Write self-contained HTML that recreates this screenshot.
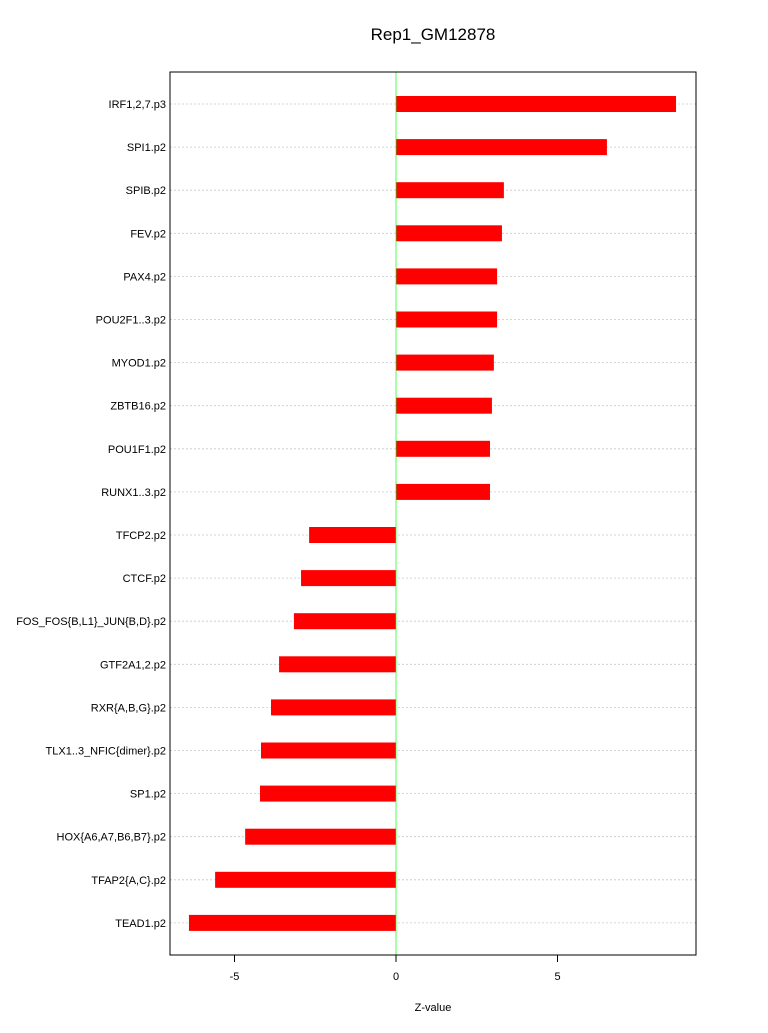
<!DOCTYPE html>
<html><head><meta charset="utf-8"><style>
body{margin:0;background:#fff}
svg text{font-family:"Liberation Sans",sans-serif}
</style></head><body>
<svg id="chart" width="768" height="1028" xmlns="http://www.w3.org/2000/svg">
<text x="433" y="40" text-anchor="middle" font-size="17">Rep1_GM12878</text>
<text x="433" y="1011" text-anchor="middle" font-size="11">Z-value</text>
<g id="grid"></g><g id="bars"></g><g id="labels"></g><g id="xaxis"></g>
<line x1="396" y1="72" x2="396" y2="955" stroke="#00ff00" stroke-width="0.7"/>
<rect x="170" y="72" width="526" height="883" fill="none" stroke="#000" stroke-width="1"/>
</svg>
<script>
const categories=["IRF1,2,7.p3","SPI1.p2","SPIB.p2","FEV.p2","PAX4.p2","POU2F1..3.p2","MYOD1.p2","ZBTB16.p2","POU1F1.p2","RUNX1..3.p2","TFCP2.p2","CTCF.p2","FOS_FOS{B,L1}_JUN{B,D}.p2","GTF2A1,2.p2","RXR{A,B,G}.p2","TLX1..3_NFIC{dimer}.p2","SP1.p2","HOX{A6,A7,B6,B7}.p2","TFAP2{A,C}.p2","TEAD1.p2"];
const values=[8.67,6.53,3.34,3.28,3.13,3.13,3.03,2.97,2.91,2.91,-2.69,-2.94,-3.16,-3.62,-3.87,-4.18,-4.21,-4.67,-5.6,-6.41];
const xTicks=[-5,0,5];
const NS="http://www.w3.org/2000/svg";
const x=v=>396+v*32.3;
const y=i=>104+i*43.1;
function mk(t,a,p){const e=document.createElementNS(NS,t);for(const k in a)e.setAttribute(k,a[k]);document.getElementById(p).appendChild(e);return e;}
categories.forEach((c,i)=>{
 const g=mk('line',{x1:170,x2:696,y1:y(i),y2:y(i),stroke:'#c8c8c8','stroke-dasharray':'2,2','stroke-width':0.8},'grid');
 
 
 const v=values[i];
 const b=mk('rect',{x:Math.min(x(0),x(v)),y:y(i)-8,width:Math.abs(x(v)-x(0)),height:16,fill:'#ff0000'},'bars');
 
 
 const t=mk('text',{x:166,y:y(i)+4,'text-anchor':'end','font-size':11},'labels');
 t.textContent=c;
 
 
});
xTicks.forEach(v=>{
 const l=mk('line',{x1:x(v),x2:x(v),y1:955,y2:962,stroke:'#000'},'xaxis');
 
 
 const t=mk('text',{x:x(v),y:980,'text-anchor':'middle','font-size':11},'xaxis');
 t.textContent=v;
 
 
});
const ax=mk('line',{x1:x(-5),x2:x(5),y1:955,y2:955,stroke:'#000'},'xaxis');


</script>
</body></html>
